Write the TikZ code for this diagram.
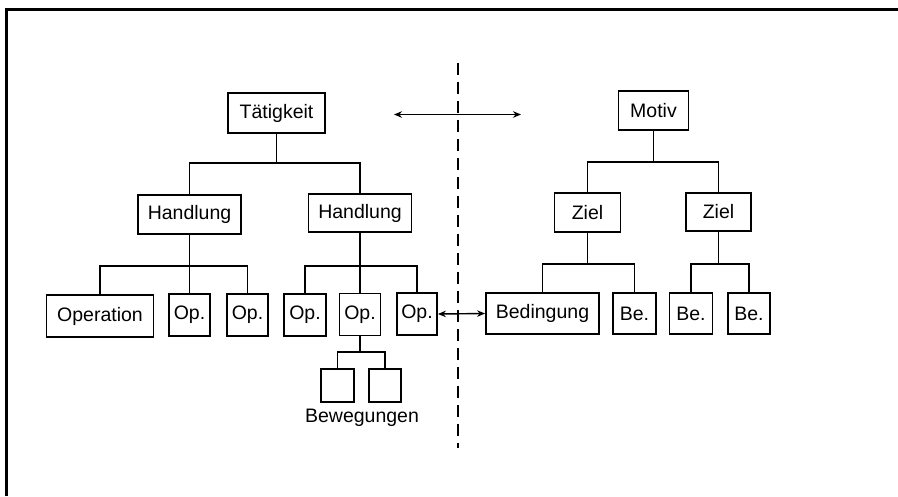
\documentclass[tikz,border=0pt]{standalone}
\usepackage{fontspec}
\setmainfont{Liberation Sans}
\usetikzlibrary{arrows.meta}
\begin{document}
\begin{tikzpicture}[x=1pt,y=-1pt,
  bx/.style={draw, line width=1.8pt, inner sep=0pt, font=\fontsize{19.5}{22}\selectfont},
  ln/.style={line width=1.7pt},
  dbl/.style={line width=1.4pt, {Stealth[length=8pt,width=6.5pt]}-{Stealth[length=8pt,width=6.5pt]}}]
\useasboundingbox (0,0) rectangle (898,496);
% frame
\draw[line width=3pt] (6,496) -- (6,9) -- (898,9);
% dashed divider
\coordinate (dtop) at (458,63);
\coordinate (dbot) at (458,448);
\draw[line width=1.6pt, dash pattern=on 12pt off 7pt] (dtop) -- (dbot);
% nodes
\node[bx, minimum width=97pt, minimum height=40pt] (T) at (276.5,113) {Tätigkeit};
\node[bx, minimum width=70pt, minimum height=39pt] (M) at (653.5,110.5) {Motiv};
\node[bx, minimum width=103pt, minimum height=39pt] (H1) at (189.5,214.5) {Handlung};
\node[bx, minimum width=103pt, minimum height=38pt] (H2) at (360,213) {Handlung};
\node[bx, minimum width=66pt, minimum height=39pt] (Z1) at (587.5,212.5) {Ziel};
\node[bx, minimum width=65pt, minimum height=38pt] (Z2) at (718.5,212) {Ziel};
\node[bx, minimum width=107pt, minimum height=42pt] (O1) at (100,316) {Operation};
\node[bx, minimum width=41pt, minimum height=42pt] (O2) at (189.5,315) {Op.};
\node[bx, minimum width=41pt, minimum height=42pt] (O3) at (247.5,315) {Op.};
\node[bx, minimum width=42pt, minimum height=42pt] (O4) at (305,315) {Op.};
\node[bx, minimum width=41pt, minimum height=42pt] (O5) at (360,314.5) {Op.};
\node[bx, minimum width=40pt, minimum height=42pt] (O6) at (417,314) {Op.};
\node[bx, minimum width=113pt, minimum height=41pt] (B1) at (542.5,313.5) {Bedingung};
\node[bx, minimum width=43pt, minimum height=41pt] (B2) at (634.5,313.5) {Be.};
\node[bx, minimum width=43pt, minimum height=41pt] (B3) at (691,313.5) {Be.};
\node[bx, minimum width=42pt, minimum height=41pt] (B4) at (749,313.5) {Be.};
\node[bx, minimum width=33pt, minimum height=33pt] (S1) at (337.5,385.5) {};
\node[bx, minimum width=32pt, minimum height=33pt] (S2) at (385,385.5) {};
\node[font=\fontsize{19.5}{22}\selectfont, inner sep=0pt] (BW) at (362,418) {Bewegungen};
% tree connectors
\draw[ln] (T.south) -- (T.south |- 0,163);
\draw[ln] (H1.north) |- (H2.north |- 0,163) -- (H2.north);
\draw[ln] (H1.south) -- (O2.north);
\draw[ln] (O1.north) |- (O3.north |- 0,266) -- (O3.north);
\draw[ln] (H2.south) -- (O5.north);
\draw[ln] (O4.north) |- (O6.north |- 0,266) -- (O6.north);
\draw[ln] (O5.south) -- (O5.south |- 0,352);
\draw[ln] (S1.north) |- (S2.north |- 0,352) -- (S2.north);
\draw[ln] (M.south) -- (M.south |- 0,162);
\draw[ln] (Z1.north) |- (Z2.north |- 0,162) -- (Z2.north);
\draw[ln] (Z1.south) -- (Z1.south |- 0,264);
\draw[ln] (B1.north) |- (B2.north |- 0,264) -- (B2.north);
\draw[ln] (Z2.south) -- (Z2.south |- 0,264);
\draw[ln] (B3.north) |- (B4.north |- 0,264) -- (B4.north);
% double arrows
\coordinate (aL) at (394,114.5);
\coordinate (aR) at (521,114.5);
\draw[dbl] (aL) -- (aR);
\draw[dbl] (O6.east) -- (B1.west);
\end{tikzpicture}
\end{document}
